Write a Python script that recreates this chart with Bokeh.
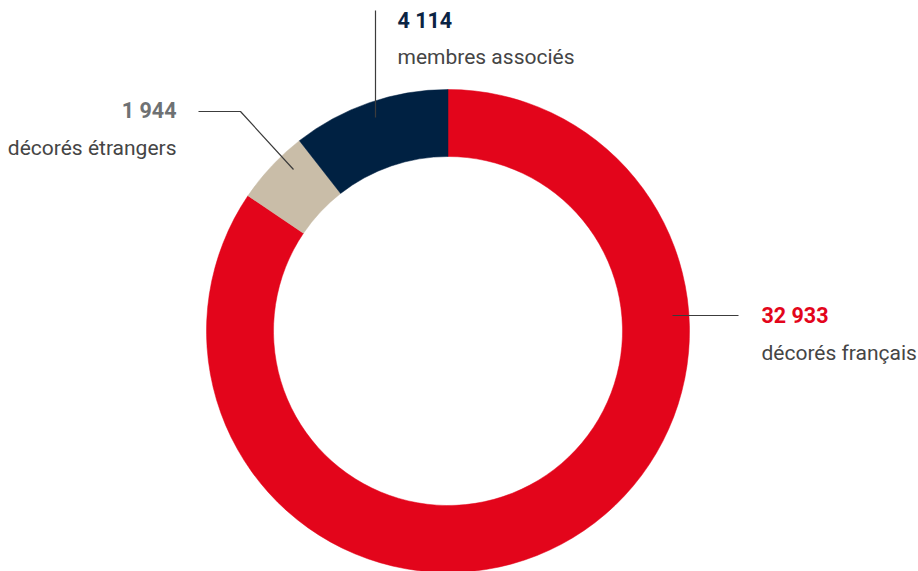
import math
from bokeh.plotting import figure
from bokeh.models import ColumnDataSource, Range1d
from bokeh.core.properties import value
from bokeh.embed import file_html
from bokeh.resources import INLINE

# ---- data ----
categories = ["décorés français", "décorés étrangers", "membres associés"]
values = [32933, 1944, 4114]
value_labels = ["32 933", "1 944", "4 114"]
colors = ["#E3051B", "#C9BDA8", "#002142"]
number_colors = ["#E3051B", "#6E7173", "#0B2444"]

W, H = 918, 571
FONT = "Roboto"

def px(x):
    return x

def py(y):
    return H - y

total = float(sum(values))
starts, ends = [], []
cum = 0.0
for v in values:
    starts.append(math.pi / 2 - 2 * math.pi * cum / total)
    cum += v
    ends.append(math.pi / 2 - 2 * math.pi * cum / total)

src = ColumnDataSource(dict(cat=categories, val=values, start=starts, end=ends, color=colors))

p = figure(width=W, height=H, output_backend="svg", toolbar_location=None,
           x_range=Range1d(0, W), y_range=Range1d(0, H), min_border=0)
p.axis.visible = False
p.grid.visible = False
p.outline_line_color = None
p.background_fill_color = "white"
p.border_fill_color = "white"

cx, cy = px(447.5), py(330.5)
p.annular_wedge(x=cx, y=cy, inner_radius=174.5, outer_radius=241.5,
                start_angle="start", end_angle="end", direction="clock",
                fill_color="color", line_color="color", line_width=0.5, source=src)

# leader lines (annotation positions)
line_col = "#3C3C3C"
p.line([px(672), px(738)], [py(315), py(315)], line_color=line_col, line_width=1.2)
p.line([px(198), px(240), px(293)], [py(111), py(111), py(169)], line_color=line_col, line_width=1.2)
p.line([px(375), px(375)], [py(10), py(117)], line_color=line_col, line_width=1.2)

label_col = "#454545"
# label anchors: (x, number baseline, label baseline, align)
anchors = [(761, 315, 352, "left"), (176, 110, 147, "right"), (397, 20, 56, "left")]
for i, (ax, yb1, yb2, al) in enumerate(anchors):
    p.text(x=[px(ax)], y=[py(yb1)], text=[value_labels[i]], text_font=value(FONT),
           text_font_size="21.5px", text_font_style="bold", text_color=number_colors[i],
           text_align=al, text_baseline="alphabetic")
    p.text(x=[px(ax)], y=[py(yb2)], text=[categories[i]], text_font=value(FONT),
           text_font_size="21px", text_color=label_col,
           text_align=al, text_baseline="alphabetic")

open("out.html", "w").write(file_html(p, INLINE))
